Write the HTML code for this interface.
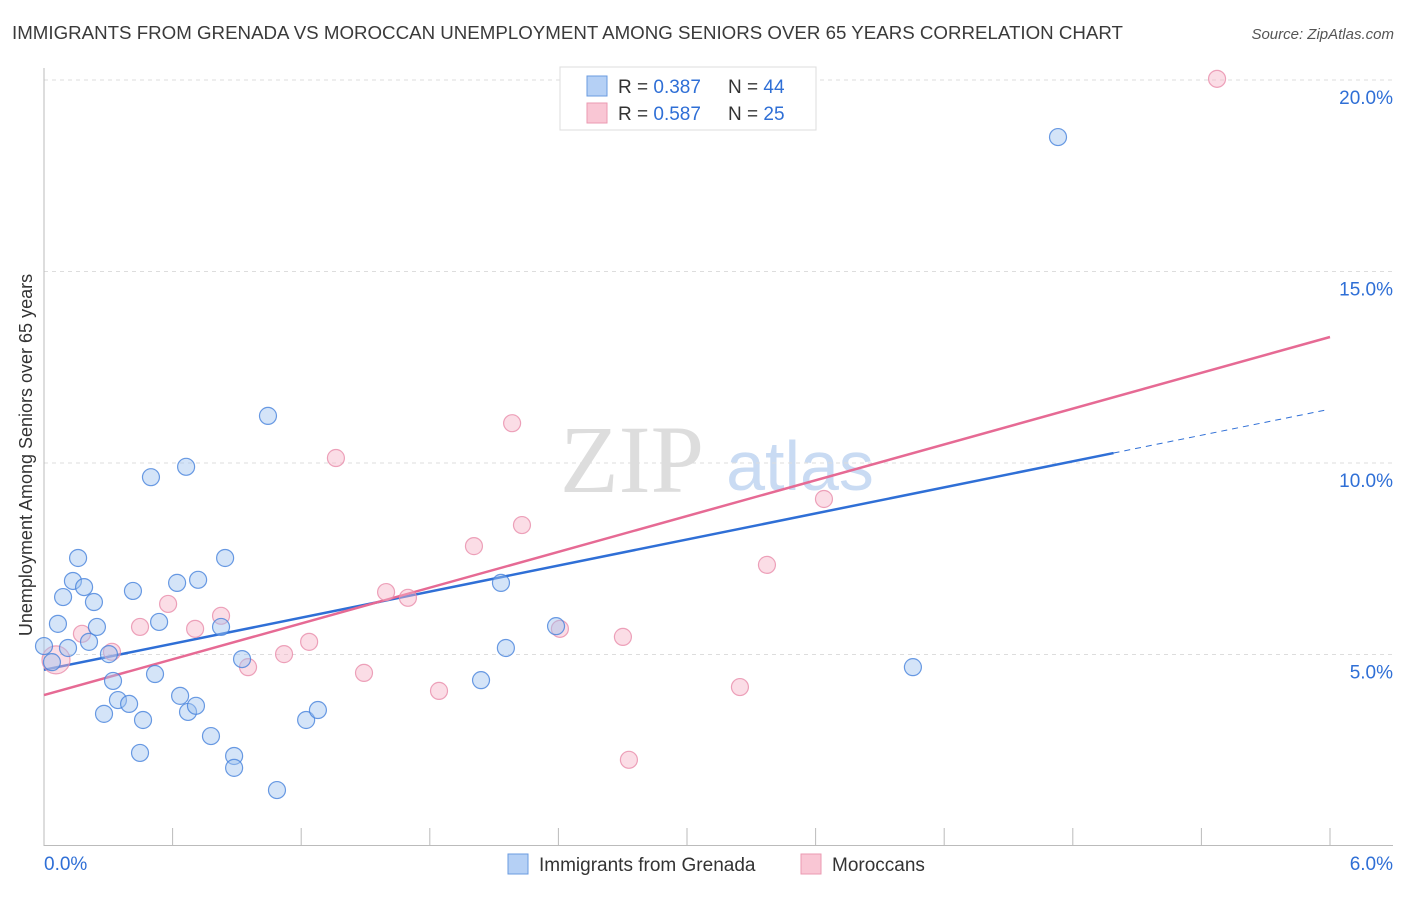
<!DOCTYPE html>
<html><head><meta charset="utf-8"><style>
body{margin:0;background:#fff;font-family:"Liberation Sans",sans-serif;}
</style></head><body>
<svg width="1406" height="892" xmlns="http://www.w3.org/2000/svg" id="chart" font-family="Liberation Sans, sans-serif">
<text x="12" y="39" font-size="18" fill="#3a3a3a" textLength="1111" lengthAdjust="spacingAndGlyphs">IMMIGRANTS FROM GRENADA VS MOROCCAN UNEMPLOYMENT AMONG SENIORS OVER 65 YEARS CORRELATION CHART</text>
<text x="1394" y="39" font-size="15" fill="#555" text-anchor="end" font-style="italic">Source: ZipAtlas.com</text>
<text x="32" y="455" font-size="18" fill="#333" text-anchor="middle" transform="rotate(-90 32 455)">Unemployment Among Seniors over 65 years</text>
<g><text x="632" y="492" font-size="96" fill="#ddd" font-family="Liberation Serif, serif" text-anchor="middle">ZIP</text><text x="800" y="490" font-size="70" fill="#c9dbf3" text-anchor="middle">atlas</text></g>
<g id="grid"></g><g id="axes"></g><g id="lines"></g><g id="pts"></g>
<g>
<rect x="560" y="67" width="256" height="63" fill="#fff" stroke="#ddd"/>
<rect x="587" y="76" width="20" height="20" fill="#b5d0f5" stroke="#6a9be0"/>
<text x="618" y="93" font-size="19" fill="#333">R = <tspan fill="#2f6fd6">0.387</tspan></text>
<text x="728" y="93" font-size="19" fill="#333">N = <tspan fill="#2f6fd6">44</tspan></text>
<rect x="587" y="103" width="20" height="20" fill="#f9c6d4" stroke="#eb9ab2"/>
<text x="618" y="120" font-size="19" fill="#333">R = <tspan fill="#2f6fd6">0.587</tspan></text>
<text x="728" y="120" font-size="19" fill="#333">N = <tspan fill="#2f6fd6">25</tspan></text>
</g>
<g>
<rect x="508" y="854" width="20" height="20" fill="#b5d0f5" stroke="#6a9be0"/>
<text x="539" y="871" font-size="19" fill="#333">Immigrants from Grenada</text>
<rect x="801" y="854" width="20" height="20" fill="#f9c6d4" stroke="#eb9ab2"/>
<text x="832" y="871" font-size="19" fill="#333">Moroccans</text>
</g>
</svg>
<script>
const blueX=[0,0.037,0.065,0.089,0.112,0.135,0.159,0.187,0.210,0.233,0.247,0.280,0.303,0.322,0.345,0.397,0.415,0.448,0.462,0.499,0.518,0.537,0.621,0.635,0.663,0.672,0.709,0.719,0.779,0.826,0.845,0.887,0.887,0.924,1.045,1.087,1.223,1.278,2.039,2.132,2.155,2.389,4.054,4.731];
const blueY=[5.22,4.80,5.80,6.50,5.17,6.92,7.52,6.76,5.33,6.37,5.72,3.45,5.01,4.31,3.81,3.71,6.66,2.43,3.29,9.63,4.49,5.85,6.87,3.92,9.90,3.50,3.66,6.95,2.87,5.72,7.52,2.35,2.04,4.88,11.23,1.46,3.29,3.55,4.33,6.87,5.17,5.74,4.67,18.51];
const pinkX=[0.056,0.177,0.317,0.448,0.579,0.705,0.826,0.952,1.120,1.237,1.362,1.493,1.596,1.698,1.843,2.006,2.184,2.230,2.407,2.701,2.729,3.247,3.373,3.639,5.473];
const pinkY=[4.86,5.54,5.07,5.72,6.32,5.67,6.01,4.67,5.01,5.33,10.13,4.52,6.63,6.48,4.05,7.83,11.04,8.38,5.67,5.46,2.25,4.15,7.34,9.06,20.03];
const blueTrend=[4.60,10.26]; // y at x=0 and x=4.99
const pinkTrend=[3.94,13.29]; // y at x=0 and x=6
const yTicks=[5,10,15,20];
const xTickLabels=["0.0%","6.0%"];
const NS="http://www.w3.org/2000/svg";
const sx=v=>44+v*1286/6, sy=v=>846-v*38.3;
function mk(t,a,p){const e=document.createElementNS(NS,t);for(const k in a)e.setAttribute(k,a[k]);p.appendChild(e);return e;}
const grid=document.getElementById('grid'),axes=document.getElementById('axes'),lines=document.getElementById('lines'),pts=document.getElementById('pts');
yTicks.forEach(t=>{
 const l=mk('line',{x1:44,x2:1393,y1:sy(t),y2:sy(t),stroke:'#ddd','stroke-dasharray':'4,4'},grid);
 
 
 const tx=mk('text',{x:1393,y:sy(t)+24,'font-size':19,fill:'#2f6fd6','text-anchor':'end'},grid);
 tx.textContent=t.toFixed(1)+'%';
 
 
});
mk('line',{x1:44,x2:44,y1:68,y2:846,stroke:'#bbb'},axes);
mk('line',{x1:44,x2:1393,y1:845.5,y2:845.5,stroke:'#bbb'},axes);
for(let i=0;i<=10;i++){const x=sx(i*0.6);mk('line',{x1:x,x2:x,y1:828,y2:846,stroke:'#bbb'},axes);}
const xl0=mk('text',{x:44,y:870,'font-size':19,fill:'#2f6fd6'},axes);xl0.textContent=xTickLabels[0];


const xl1=mk('text',{x:1393,y:870,'font-size':19,fill:'#2f6fd6','text-anchor':'end'},axes);xl1.textContent=xTickLabels[1];


function pt(x,y,r,fill,stroke,name){const c=mk('circle',{cx:sx(x),cy:sy(y),r:r,fill:fill,stroke:stroke,'stroke-width':1.2},pts);
 
 }
pinkX.forEach((x,i)=>pt(x,pinkY[i],i==0?14:8.5,'rgba(246,180,200,0.45)','rgba(232,140,170,0.8)','moroccans-point'));
blueX.forEach((x,i)=>pt(x,blueY[i],8.5,'rgba(160,195,240,0.45)','rgba(70,130,220,0.8)','grenada-point'));
const bx=4.99, bs=(blueTrend[1]-blueTrend[0])/bx;
const b1=mk('line',{x1:sx(0),y1:sy(blueTrend[0]),x2:sx(bx),y2:sy(blueTrend[1]),stroke:'#2f6fd6','stroke-width':2.5},lines);


mk('line',{x1:sx(bx),y1:sy(blueTrend[1]),x2:sx(5.98),y2:sy(blueTrend[0]+bs*5.98),stroke:'#2f6fd6','stroke-width':1,'stroke-dasharray':'6,5'},lines);
const p1=mk('line',{x1:sx(0),y1:sy(pinkTrend[0]),x2:sx(6),y2:sy(pinkTrend[1]),stroke:'#e66a94','stroke-width':2.5},lines);


</script>
</body></html>
